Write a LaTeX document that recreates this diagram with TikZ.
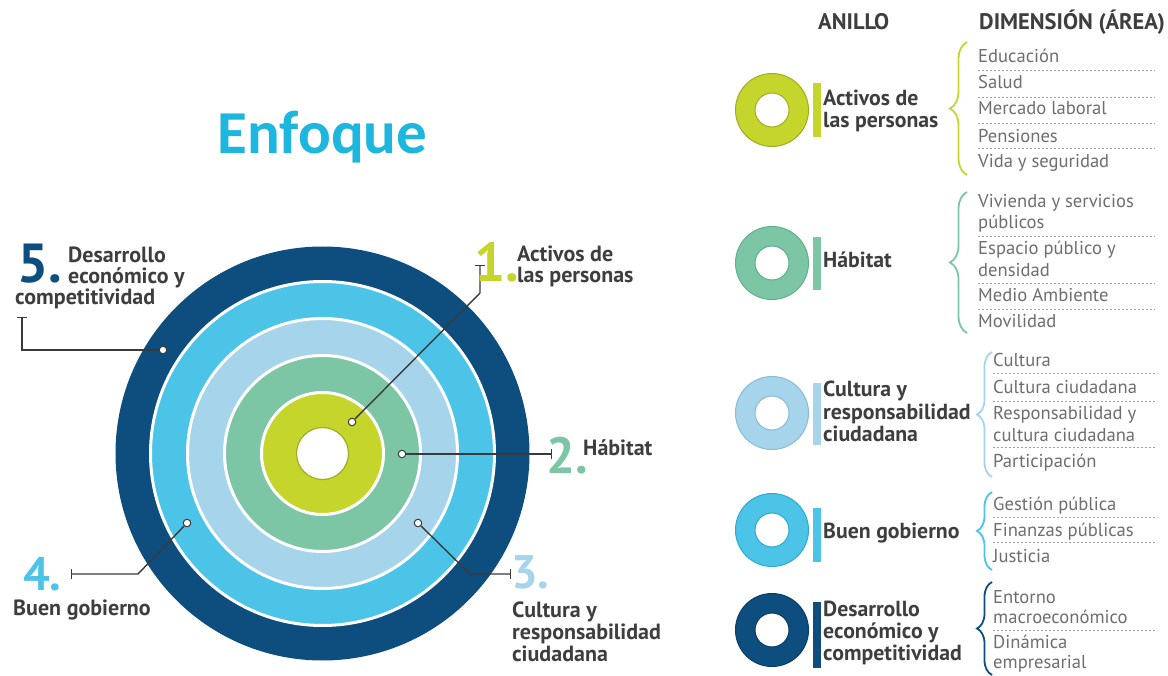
\documentclass[tikz,border=0pt]{standalone}
\usepackage{fontspec}
\setmainfont{PT Sans}
\newfontfamily\titlefont{Carlito}
\usetikzlibrary{arrows.meta,decorations.pathreplacing}
\definecolor{limeC}{HTML}{C6D52B}
\definecolor{limeD}{HTML}{9FAE1E}
\definecolor{tealC}{HTML}{7CC6A6}
\definecolor{tealD}{HTML}{5FAF8C}
\definecolor{pblueC}{HTML}{A6D4EA}
\definecolor{pblueD}{HTML}{86BCD6}
\definecolor{lblueC}{HTML}{4BC4E8}
\definecolor{lblueD}{HTML}{2FA9D0}
\definecolor{navyC}{HTML}{0E4E7F}
\definecolor{navyD}{HTML}{0A3D66}
\definecolor{titleC}{HTML}{1CB6DE}
\definecolor{labelgray}{HTML}{3E3E3E}
\definecolor{itemgray}{HTML}{6E6E6E}
\definecolor{sepgray}{HTML}{A0A0A0}
\definecolor{conngray}{HTML}{3A3A3A}
\begin{document}
\begin{tikzpicture}[x=1pt,y=-1pt,
  lbl/.style={anchor=base west, inner sep=0pt, text=labelgray, font=\bfseries\fontsize{22}{22}\selectfont},
  rlbl/.style={anchor=base west, inner sep=0pt, text=labelgray, font=\bfseries\fontsize{21.8}{21.8}\selectfont},
  hdr/.style={anchor=base west, inner sep=0pt, text=labelgray, font=\bfseries\fontsize{22.5}{22.5}\selectfont},
  item/.style={anchor=base west, inner sep=0pt, text=itemgray, font=\fontsize{18.6}{18.6}\selectfont},
  numA/.style={anchor=base west, inner sep=0pt, text depth=0pt, font=\bfseries\fontsize{55}{55}\selectfont},
  numB/.style={anchor=base west, inner sep=0pt, text depth=0pt, font=\bfseries\fontsize{51}{51}\selectfont},
  numC/.style={anchor=base west, inner sep=0pt, text depth=0pt, font=\bfseries\fontsize{47}{47}\selectfont},
  dotn/.style={circle, draw=conngray, fill=white, line width=1pt, minimum size=7.5pt, inner sep=0pt},
  conn/.style={draw=conngray, line width=1.4pt, -{Bar[width=10pt,line width=1.4pt]}},
  sepl/.style={draw=sepgray, dash pattern=on 2pt off 2pt, line width=0.8pt},
  brc/.style={decorate, decoration={brace, amplitude=17pt}, line width=1.8pt},
  brcs/.style={decorate, decoration={brace, amplitude=15pt}, line width=1.8pt}
]
\useasboundingbox (0,0) rectangle (1168,676);
\fill[white] (0,0) rectangle (1168,676);

% title
\node[anchor=base, inner sep=0pt, text=titleC, font=\titlefont\bfseries\fontsize{61}{61}\selectfont] (title) at (322.5,154) {Enfoque};

% target
\coordinate (C) at (322.5,453.5);
\fill[navyC] (C) circle (207pt);
\filldraw[fill=lblueC, draw=white, line width=3pt] (C) circle (172pt);
\filldraw[fill=pblueC, draw=white, line width=3pt] (C) circle (135pt);
\filldraw[fill=tealC, draw=white, line width=3pt] (C) circle (98pt);
\filldraw[fill=limeC, draw=white, line width=3pt] (C) circle (61pt);
\filldraw[fill=white, draw=limeD, line width=1.2pt] (C) circle (26pt);

% dots
\node[dotn] (d1) at (352,422) {};
\node[dotn] (d2) at (402,454) {};
\node[dotn] (d3) at (418,523) {};
\node[dotn] (d4) at (187,523) {};
\node[dotn] (d5) at (163,350) {};
\coordinate (b1) at (480,293); \coordinate (k1) at (480,265);
\coordinate (k2) at (552,454);
\coordinate (b3) at (470,574); \coordinate (k3) at (511,574);
\coordinate (b4) at (138,574); \coordinate (k4) at (71,574);
\coordinate (b5) at (22,350); \coordinate (k5) at (22,317);
\draw[conn] (d1) -- (b1) -- (k1);
\draw[conn] (d2) -- (k2);
\draw[conn] (d3) -- (b3) -- (k3);
\draw[conn] (d4) -- (b4) -- (k4);
\draw[conn] (d5) -- (b5) -- (k5);

% numerals
\node[numA, text=navyC] (n5) at (17,283) {5.};
\node[numA, text=limeC] (n1) at (474,282) {1.};
\node[numB, text=tealC] (n2) at (546,473) {2.};
\node[numC, text=pblueC] (n3) at (511,588) {3.};
\node[numC, text=lblueC] (n4) at (23,590) {4.};

% left labels
\node[lbl] (t5a) at (68,263) {Desarrollo};
\node[lbl] (t5b) at (68,284) {económico y};
\node[lbl] (t5c) at (15,305) {competitividad};
\node[lbl] (t1a) at (517,262) {Activos de};
\node[lbl] (t1b) at (517,283) {las personas};
\node[lbl] (t2) at (583,455) {Hábitat};
\node[lbl] (t3a) at (512,617) {Cultura y};
\node[lbl] (t3b) at (512,639) {responsabilidad};
\node[lbl] (t3c) at (512,661) {ciudadana};
\node[lbl] (t4) at (13,615) {Buen gobierno};

% headers
\node[hdr] (h1) at (818,30) {ANILLO};
\node[hdr] (h2) at (979,30) {DIMENSIÓN (ÁREA)};

% right rings
\filldraw[fill=limeC, draw=limeD, line width=1pt, even odd rule] (772,110) circle (36.5pt) (772,110) circle (17pt);
\filldraw[fill=tealC, draw=tealD, line width=1pt, even odd rule] (772,263) circle (36.5pt) (772,263) circle (17pt);
\filldraw[fill=pblueC, draw=pblueD, line width=1pt, even odd rule] (772,413) circle (36.5pt) (772,413) circle (17pt);
\filldraw[fill=lblueC, draw=lblueD, line width=1pt, even odd rule] (772,530) circle (36.5pt) (772,530) circle (17pt);
\filldraw[fill=navyC, draw=navyD, line width=1pt, even odd rule] (772,630) circle (36.5pt) (772,630) circle (17pt);

% bars
\fill[limeC] (813,83) rectangle (821,137);
\fill[tealC] (813,237) rectangle (821,290);
\fill[pblueC] (813,383) rectangle (821,445);
\fill[lblueC] (813,508) rectangle (821,562);
\fill[navyC] (813,602) rectangle (821,668);

% ring labels
\node[rlbl] (r1a) at (823,106) {Activos de};
\node[rlbl] (r1b) at (823,128) {las personas};
\node[rlbl] (r2) at (823,268) {Hábitat};
\node[rlbl] (r3a) at (823,397) {Cultura y};
\node[rlbl] (r3b) at (823,419) {responsabilidad};
\node[rlbl] (r3c) at (823,442) {ciudadana};
\node[rlbl] (r4) at (823,538) {Buen gobierno};
\node[rlbl] (r5a) at (823,616) {Desarrollo};
\node[rlbl] (r5b) at (823,638) {económico y};
\node[rlbl] (r5c) at (823,660) {competitividad};

% braces
\draw[brc, draw=limeC] (967,175) -- (967,42);
\draw[brc, draw=tealC] (967,333) -- (967,192);
\draw[brcs, draw=pblueC] (992,477) -- (992,352);
\draw[brcs, draw=lblueC] (992,570) -- (992,492);
\draw[brcs, draw=navyC] (992,675) -- (992,582);

% items group 1
\node[item] (i11) at (978,63) {Educación};
\node[item] (i12) at (978,89) {Salud};
\node[item] (i13) at (978,115) {Mercado laboral};
\node[item] (i14) at (978,143) {Pensiones};
\node[item] (i15) at (978,168) {Vida y seguridad};
\draw[sepl] (978,70) -- (1155,70);
\draw[sepl] (978,97) -- (1155,97);
\draw[sepl] (978,123) -- (1155,123);
\draw[sepl] (978,148) -- (1155,148);
% group 2
\node[item] (i21) at (978,208) {Vivienda y servicios};
\node[item] (i22) at (978,229) {públicos};
\node[item] (i23) at (978,255) {Espacio público y};
\node[item] (i24) at (978,277) {densidad};
\node[item] (i25) at (978,302) {Medio Ambiente};
\node[item] (i26) at (978,328) {Movilidad};
\draw[sepl] (978,236) -- (1155,236);
\draw[sepl] (978,283) -- (1155,283);
\draw[sepl] (978,309) -- (1155,309);
% group 3
\node[item] (i31) at (993,367) {Cultura};
\node[item] (i32) at (993,393) {Cultura ciudadana};
\node[item] (i33) at (993,419) {Responsabilidad y};
\node[item] (i34) at (993,441) {cultura ciudadana};
\node[item] (i35) at (993,467) {Participación};
\draw[sepl] (993,373) -- (1155,373);
\draw[sepl] (993,401) -- (1155,401);
\draw[sepl] (993,447) -- (1155,447);
% group 4
\node[item] (i41) at (993,510) {Gestión pública};
\node[item] (i42) at (993,536) {Finanzas públicas};
\node[item] (i43) at (993,562) {Justicia};
\draw[sepl] (993,517) -- (1155,517);
\draw[sepl] (993,542) -- (1155,542);
% group 5
\node[item] (i51) at (993,603) {Entorno};
\node[item] (i52) at (993,623) {macroeconómico};
\node[item] (i53) at (993,648) {Dinámica};
\node[item] (i54) at (993,668) {empresarial};
\draw[sepl] (993,630) -- (1155,630);
\end{tikzpicture}
\end{document}
